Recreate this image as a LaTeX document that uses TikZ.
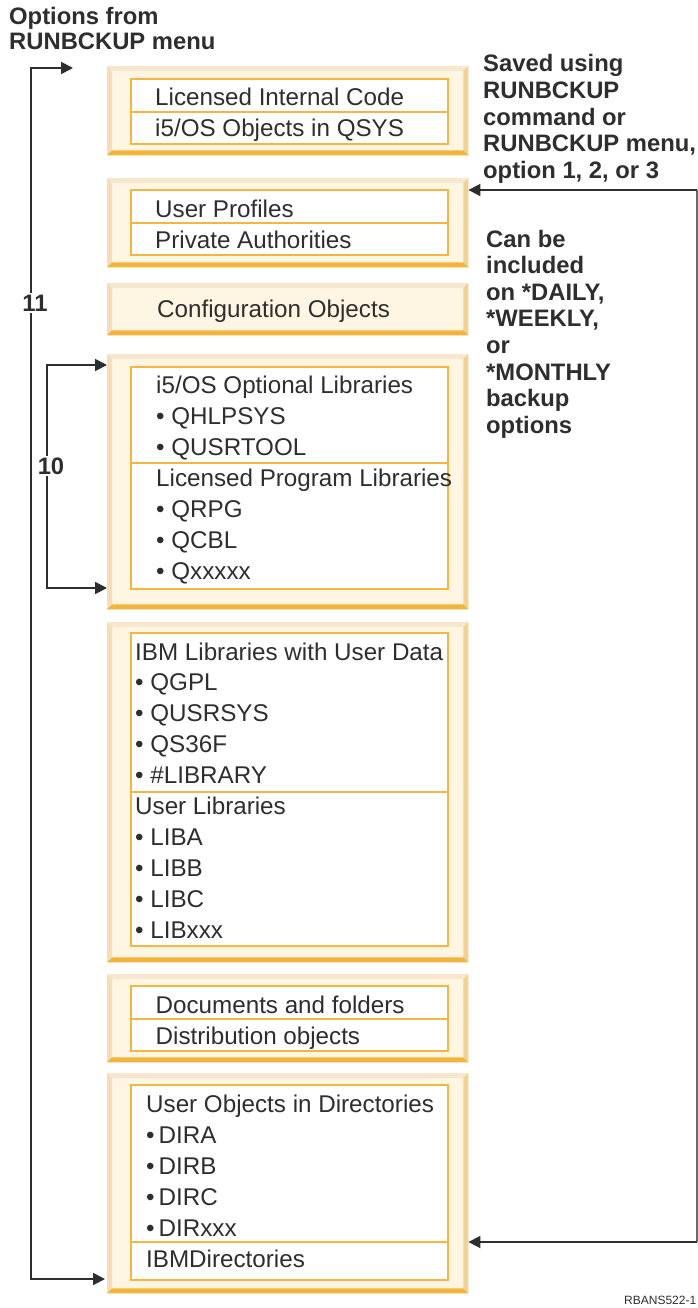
\documentclass[tikz,border=0pt]{standalone}
\usepackage{fontspec}
\setmainfont{Liberation Sans}
\usetikzlibrary{arrows.meta}
\definecolor{cream}{HTML}{FFF5E3}
\definecolor{bvtop}{HTML}{F7E7CF}
\definecolor{bvleft}{HTML}{F5DDB8}
\definecolor{bvright}{HTML}{F5D18F}
\definecolor{bvbot}{HTML}{F4B43C}
\definecolor{innerc}{HTML}{F4B63F}
\definecolor{ink}{HTML}{2E2E2E}
\definecolor{thinline}{HTML}{6A6A6A}
\newcommand\bevelbox[1]{%
 \fill[bvtop] (#1.north west) -- (#1.north east) -- ([shift={(-5,5)}]#1.north east) -- ([shift={(5,5)}]#1.north west) -- cycle;
 \fill[bvleft] (#1.north west) -- ([shift={(5,5)}]#1.north west) -- ([shift={(5,-5)}]#1.south west) -- (#1.south west) -- cycle;
 \fill[bvright] (#1.north east) -- ([shift={(-5,5)}]#1.north east) -- ([shift={(-5,-5)}]#1.south east) -- (#1.south east) -- cycle;
 \fill[bvbot] (#1.south west) -- ([shift={(5,-5)}]#1.south west) -- ([shift={(-5,-5)}]#1.south east) -- (#1.south east) -- cycle;
}
\newcommand\innerbox[3]{%
 \filldraw[fill=white, draw=innerc, line width=1.5pt] (131,#1) rectangle (448,#3);
 \draw[draw=innerc, line width=1.5pt] (131,#2) -- (448,#2);
}
\tikzset{
 obox/.style={fill=cream, inner sep=0pt, minimum width=361pt, anchor=north west},
 txt/.style={anchor=base west, inner sep=0pt, text=ink, font=\fontsize{24.2}{28}\selectfont},
 lbl/.style={anchor=base west, inner sep=0pt, text=ink, font=\bfseries\fontsize{23.8}{26.6}\selectfont},
 num/.style={fill=white, inner sep=1.5pt, text=ink, font=\bfseries\fontsize{23.8}{26.6}\selectfont},
 arr/.style={draw=ink, line width=1.8pt, -{Triangle[length=12pt,width=12pt]}},
 dblarr/.style={draw=ink, line width=1.8pt, {Triangle[length=12pt,width=12pt]}-{Triangle[length=12pt,width=12pt]}},
 thin/.style={draw=thinline, line width=1.2pt}
}
\begin{document}
\begin{tikzpicture}[x=1pt,y=-1pt]
\useasboundingbox[fill=white] (0,0) rectangle (698,1308);

% outer boxes
\node[obox, minimum height=89pt] (b1) at (107,66) {};
\node[obox, minimum height=89pt] (b2) at (107,178) {};
\node[obox, minimum height=52pt] (b3) at (107,283) {};
\node[obox, minimum height=255pt] (b4) at (107,354) {};
\node[obox, minimum height=340pt] (b5) at (107,622) {};
\node[obox, minimum height=88pt] (b6) at (107,974) {};
\node[obox, minimum height=220pt] (b7) at (107,1073) {};
\bevelbox{b1}\bevelbox{b2}\bevelbox{b3}\bevelbox{b4}\bevelbox{b5}\bevelbox{b6}\bevelbox{b7}

% inner boxes
\innerbox{79}{112}{144}
\innerbox{190}{223}{255}
\innerbox{367}{463}{589}
\innerbox{633}{792}{946}
\innerbox{986}{1019}{1051}
\innerbox{1085}{1242}{1280}

% box texts
\node[txt] (t11) at (155,106) {Licensed Internal Code};
\node[txt] (t12) at (155,137) {i5/OS Objects in QSYS};
\node[txt] (t21) at (155,217) {User Profiles};
\node[txt] (t22) at (155,248) {Private Authorities};
\node[txt] (t31) at (157,317) {Configuration Objects};
\foreach \t [count=\i] in {i5/OS Optional Libraries, • QHLPSYS, • QUSRTOOL, Licensed Program Libraries, • QRPG, • QCBL, • Qxxxxx}
  \node[txt] (t4\i) at ({156},{393+31*(\i-1)}) {\t};
\foreach \t [count=\i] in {IBM Libraries with User Data, • QGPL, • QUSRSYS, • QS36F, • \#LIBRARY, User Libraries, • LIBA, • LIBB, • LIBC, • LIBxxx}
  \node[txt] (t5\i) at ({135},{660+30.9*(\i-1)}) {\t};
\node[txt] (t61) at (155.5,1013) {Documents and folders};
\node[txt] (t62) at (155.5,1044) {Distribution objects};
\foreach \t [count=\i] in {User Objects in Directories, •\hspace{4pt}DIRA, •\hspace{4pt}DIRB, •\hspace{4pt}DIRC, •\hspace{4pt}DIRxxx, IBMDirectories}
  \node[txt] (t7\i) at ({146},{1112+31*(\i-1)}) {\t};

% labels
\node[lbl] (lo1) at (9,25) {Options from};
\node[lbl] (lo2) at (9,50) {RUNBCKUP menu};
\foreach \t [count=\i] in {Saved using, RUNBCKUP, command or, {RUNBCKUP menu,}, {option 1, 2, or 3}}
  \node[lbl] (ls\i) at ({483},{72+26.6*(\i-1)}) {\t};
\foreach \t [count=\i] in {Can be, included, {on *DAILY,}, {*WEEKLY,}, or, *MONTHLY, backup, options}
  \node[lbl] (lc\i) at ({486},{247+26.6*(\i-1)}) {\t};
\node[txt, font=\fontsize{12}{14}\selectfont] (rb) at (624,1304) {RBANS522-1};

% connectors
\coordinate (a11s) at (73,68);
\coordinate (a11c1) at (31,68);
\coordinate (a11c2) at (31,1279);
\draw[dblarr, shorten >=2pt] (a11s) -- (a11c1) -- (a11c2) -- (b7.west |- a11c2);
\node[num] (n11) at (35,303) {11};

\coordinate (a10c1) at (47,365);
\coordinate (a10c2) at (47,588);
\draw[dblarr] (b4.west |- a10c1) -- (a10c1) -- (a10c2) -- (b4.west |- a10c2);
\node[num] (n10) at (51,466) {10};

\coordinate (r1) at (697,190);
\coordinate (r2) at (697,1242);
\draw[thin] (r1) -- (r2);
\draw[arr] (r1) -- (b2.east |- r1);
\draw[arr] (r2) -- (b7.east |- r2);
\end{tikzpicture}
\end{document}
